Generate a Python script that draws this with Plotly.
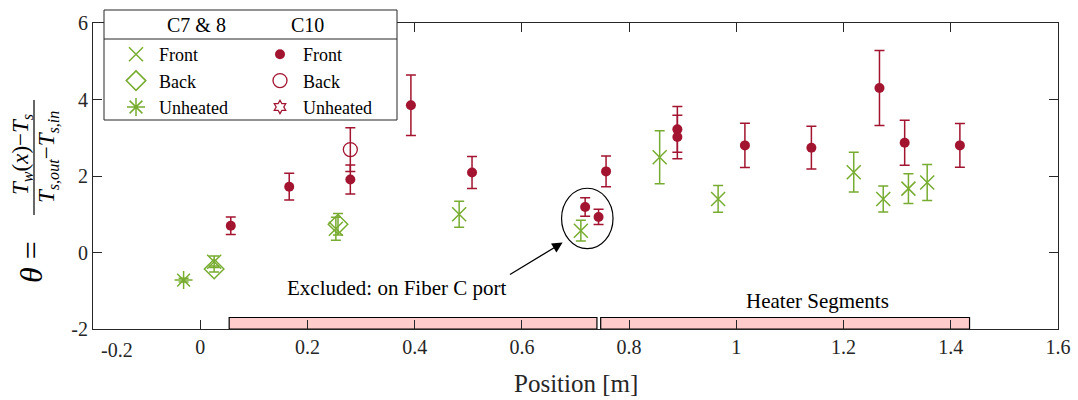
import plotly.graph_objects as go

# ---------------- data ----------------
c78_front_x = [0.026, 0.253, 0.483, 0.710, 0.857, 0.966, 1.219, 1.274, 1.321, 1.356]
c78_front_y = [-0.24, 0.62, 1.00, 0.57, 2.49, 1.40, 2.10, 1.40, 1.67, 1.83]
c78_front_e = [0.15, 0.30, 0.34, 0.27, 0.69, 0.35, 0.52, 0.34, 0.39, 0.47]

c78_back_x = [0.026, 0.257]
c78_back_y = [-0.43, 0.74]
c78_back_e = [0.08, 0.28]

c78_unh_x = [-0.031]
c78_unh_y = [-0.72]
c78_unh_e = [0.05]

c10_front_x = [0.057, 0.166, 0.280, 0.393, 0.507, 0.718, 0.743, 0.757, 0.890, 0.890,
               1.016, 1.140, 1.267, 1.314, 1.417]
c10_front_y = [0.70, 1.72, 1.91, 3.85, 2.09, 1.19, 0.93, 2.12, 3.22, 3.02,
               2.80, 2.74, 4.30, 2.87, 2.80]
c10_front_e = [0.23, 0.35, 0.38, 0.79, 0.42, 0.24, 0.20, 0.40, 0.60, 0.57,
               0.58, 0.56, 0.98, 0.59, 0.57]

c10_back_x = [0.280]
c10_back_y = [2.69]
c10_back_e = [0.57]

# C10 unheated: no measured points (legend entry only)
c10_unh_x = []
c10_unh_y = []
c10_unh_e = []

heater_x0 = [0.054, 0.747]
heater_x1 = [0.740, 1.435]
heater_top = -1.70

x_ticks = [-0.2, 0, 0.2, 0.4, 0.6, 0.8, 1.0, 1.2, 1.4, 1.6]
x_tick_labels = ["-0.2", "0", "0.2", "0.4", "0.6", "0.8", "1", "1.2", "1.4", "1.6"]
y_ticks = [-2, 0, 2, 4, 6]
y_tick_labels = ["-2", "0", "2", "4", "6"]
x_title = "Position [m]"

GREEN = "#77AC30"
RED = "#A2142F"
AX = "#262626"
FONT = "Liberation Serif"

fig = go.Figure()

def err(arr, color):
    return dict(type="data", array=arr if arr else [None], visible=True, color=color,
                thickness=1.5, width=5)

def pts(v):
    # an empty series still needs a placeholder so that its legend entry is drawn
    return v if v else [None]

fig.add_trace(go.Scatter(x=c78_front_x, y=c78_front_y, error_y=err(c78_front_e, GREEN),
                         mode="markers", name="Front", legend="legend",
                         marker=dict(symbol="x-thin-open", size=14, color=GREEN,
                                     line=dict(color=GREEN, width=1.5))))
fig.add_trace(go.Scatter(x=c78_back_x, y=c78_back_y, error_y=err(c78_back_e, GREEN),
                         mode="markers", name="Back", legend="legend",
                         marker=dict(symbol="diamond-open", size=15, color=GREEN,
                                     line=dict(color=GREEN, width=1.5))))
fig.add_trace(go.Scatter(x=c78_unh_x, y=c78_unh_y, error_y=err(c78_unh_e, GREEN),
                         mode="markers", name="Unheated", legend="legend",
                         marker=dict(symbol="asterisk-open", size=15, color=GREEN,
                                     line=dict(color=GREEN, width=1.5))))
fig.add_trace(go.Scatter(x=c10_front_x, y=c10_front_y, error_y=err(c10_front_e, RED),
                         mode="markers", name="Front", legend="legend2",
                         marker=dict(symbol="circle", size=10, color=RED)))
fig.add_trace(go.Scatter(x=c10_back_x, y=c10_back_y, error_y=err(c10_back_e, RED),
                         mode="markers", name="Back", legend="legend2",
                         marker=dict(symbol="circle-open", size=14, color=RED,
                                     line=dict(color=RED, width=1.3))))
fig.add_trace(go.Scatter(x=pts(c10_unh_x), y=pts(c10_unh_y), error_y=err(c10_unh_e, RED),
                         mode="markers", name="Unheated", legend="legend2",
                         marker=dict(symbol="hexagram-open", size=10, color=RED,
                                     line=dict(color=RED, width=1.3))))

shapes = []
for a, b in zip(heater_x0, heater_x1):
    shapes.append(dict(type="rect", xref="x", yref="y", x0=a, x1=b, y0=-2, y1=heater_top,
                       fillcolor="#FFCCCC", line=dict(color="black", width=1.2), layer="below"))
# ellipse around excluded points
shapes.append(dict(type="circle", xref="x", yref="y", x0=0.674, x1=0.770, y0=0.10, y1=1.68,
                   line=dict(color="black", width=1.2), layer="above"))

# legend box
W, H, L, T = 965, 306, 93, 23
def px(p):
    return (p - L) / W
def py(q):
    return (T + H - q) / H
shapes.append(dict(type="rect", xref="paper", yref="paper", x0=px(104), x1=px(397),
                   y0=py(120), y1=py(10), fillcolor="white",
                   line=dict(color=AX, width=1), layer="above"))
shapes.append(dict(type="line", xref="paper", yref="paper", x0=px(104), x1=px(397),
                   y0=py(39), y1=py(39), line=dict(color=AX, width=1), layer="above"))
# fraction bar of y label
shapes.append(dict(type="line", xref="paper", yref="paper", x0=px(34), x1=px(34),
                   y0=py(100), y1=py(215), line=dict(color="black", width=1.2)))

def ann(text, x, y, size, xref="paper", yref="paper", angle=0, color="black"):
    return dict(text=text, xref=xref, yref=yref, x=x, y=y, xanchor="center",
                yanchor="middle", textangle=angle, showarrow=False,
                font=dict(family=FONT, size=size, color=color))

# the first x tick label sits right of its tick in the reference: draw it as a text
shown_x_labels = [""] + x_tick_labels[1:]

annotations = [
    ann("C7 &amp; 8", px(196), py(25), 20),
    ann("C10", px(307), py(25), 20),
    ann("Excluded: on Fiber C port", 0.366, -0.92, 21, "x", "y"),
    ann("Heater Segments", 1.152, -1.27, 21, "x", "y"),
    dict(text="", xref="x", yref="y", x=0.676, y=0.26, axref="x", ayref="y",
         ax=0.575, ay=-0.60, showarrow=True, arrowhead=2, arrowsize=1.6,
         arrowwidth=1.3, arrowcolor="black"),
    ann(x_tick_labels[0], px(117), py(350), 20, color=AX),
    # x-axis title
    ann(x_title, 0.5, py(383), 25, color=AX),
    # y-axis label pieces
    ann("<i>θ</i> =", px(31), py(262), 32, angle=-90),
    ann("<i>T<sub>w</sub></i>(<i>x</i>)−<i>T<sub>s</sub></i>", px(22), py(155), 23, angle=-90),
    ann("<i>T<sub>s,out</sub></i>−<i>T<sub>s,in</sub></i>", px(48), py(157), 23, angle=-90),
]

fig.update_layout(
    width=1078, height=400,
    margin=dict(l=93, r=20, t=23, b=71),
    paper_bgcolor="white", plot_bgcolor="white",
    font=dict(family=FONT, size=20, color=AX),
    shapes=shapes, annotations=annotations,
    legend=dict(x=px(113), y=py(36), xanchor="left", yanchor="top", itemwidth=36,
                bgcolor="rgba(0,0,0,0)", font=dict(family=FONT, size=18, color="black"),
                itemsizing="trace"),
    legend2=dict(x=px(257), y=py(36), xanchor="left", yanchor="top", itemwidth=36,
                 bgcolor="rgba(0,0,0,0)", font=dict(family=FONT, size=18, color="black"),
                 itemsizing="trace"),
    showlegend=True,
)
fig.update_xaxes(range=[-0.2, 1.6], tickvals=x_ticks, ticktext=shown_x_labels,
                 showgrid=False, zeroline=False, showline=True, mirror="ticks",
                 linecolor=AX, linewidth=1, ticks="inside", ticklen=9, tickcolor=AX,
                 tickfont=dict(family=FONT, size=20, color=AX), automargin=False)
fig.update_yaxes(range=[-2, 6], tickvals=y_ticks, ticktext=y_tick_labels,
                 showgrid=False, zeroline=False, showline=True, mirror="ticks",
                 linecolor=AX, linewidth=1, ticks="inside", ticklen=9, tickcolor=AX,
                 tickfont=dict(family=FONT, size=20, color=AX), automargin=False)

fig.write_html("out.html")
